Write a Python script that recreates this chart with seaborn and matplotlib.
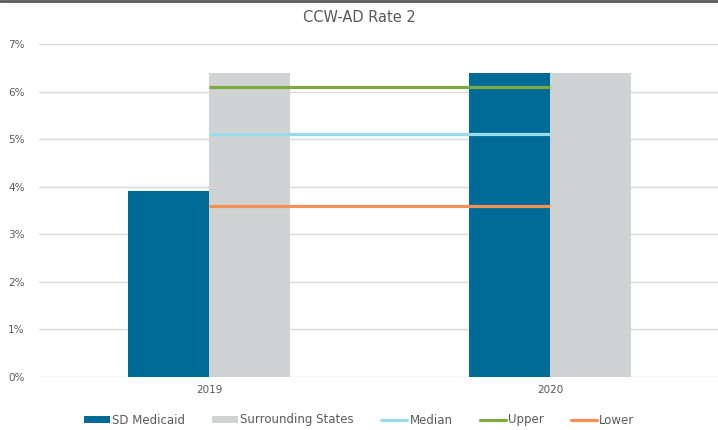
import matplotlib
matplotlib.use("Agg")
import matplotlib.pyplot as plt
import seaborn as sns
import pandas as pd
from matplotlib.patches import Patch
from matplotlib.lines import Line2D
from matplotlib.ticker import FuncFormatter

years = ["2019", "2020"]
sd_medicaid = [3.9, 6.4]
surrounding = [6.4, 6.4]
median = [5.1, 5.1]
upper = [6.1, 6.1]
lower = [3.6, 3.6]
title = "CCW-AD Rate 2"

c_sd = "#006B96"
c_sur = "#D0D3D4"
c_med = "#9ADBE8"
c_up = "#7DAA3F"
c_low = "#F79057"
txt = "#595959"

sns.set_theme(style="white")
plt.rcParams["font.family"] = ["DejaVu Sans"]

df = pd.DataFrame({
    "Year": years * 2,
    "Series": ["SD Medicaid"] * len(years) + ["Surrounding States"] * len(years),
    "Value": sd_medicaid + surrounding,
})

fig = plt.figure(figsize=(7.18, 4.30), dpi=100)
ax = fig.add_axes([38.5 / 718, 53 / 430, (720.5 - 38.5) / 718, (377 - 44) / 430])

sns.barplot(data=df, x="Year", y="Value", hue="Series", order=years,
            palette=[c_sd, c_sur], width=0.476, gap=0, saturation=1,
            ax=ax, legend=False, edgecolor="none")

xs = list(range(len(years)))
ax.plot(xs, median, color=c_med, lw=2.3, solid_capstyle="butt", zorder=5)
ax.plot(xs, upper, color=c_up, lw=2.3, solid_capstyle="butt", zorder=5)
ax.plot(xs, lower, color=c_low, lw=2.3, solid_capstyle="butt", zorder=5)

ax.set_xlim(-0.5, len(years) - 0.5)
ax.set_ylim(0, 7)
ax.set_yticks(range(0, 8))
ax.yaxis.set_major_formatter(FuncFormatter(lambda v, p: f"{int(v)}%"))
ax.grid(axis="y", color="#D9D9D9", lw=1)
ax.set_axisbelow(True)
for s in ax.spines.values():
    s.set_visible(False)
ax.set_xlabel("")
ax.set_ylabel("")
ax.tick_params(axis="both", length=0, labelsize=7.5, colors=txt, pad=10)
ax.tick_params(axis="x", pad=6)

fig.text(0.5, 1 - 17 / 430, title, ha="center", va="center", fontsize=10.5, color=txt)

handles = [
    Patch(facecolor=c_sd, edgecolor="none", label="SD Medicaid"),
    Patch(facecolor=c_sur, edgecolor="none", label="Surrounding States"),
    Line2D([], [], color=c_med, lw=2.3, label="Median"),
    Line2D([], [], color=c_up, lw=2.3, label="Upper"),
    Line2D([], [], color=c_low, lw=2.3, label="Lower"),
]
leg = fig.legend(handles=handles, loc="center", bbox_to_anchor=(0.5, 1 - 420 / 430),
                 ncol=5, frameon=False, fontsize=8.5, handlelength=2.2, handleheight=0.6,
                 handletextpad=0.2, columnspacing=2.3, labelcolor=txt)

fig.add_artist(Line2D([0, 1], [1 - 1 / 430, 1 - 1 / 430], transform=fig.transFigure,
                      color="#595959", lw=2))

fig.savefig("out.png", dpi=100)
